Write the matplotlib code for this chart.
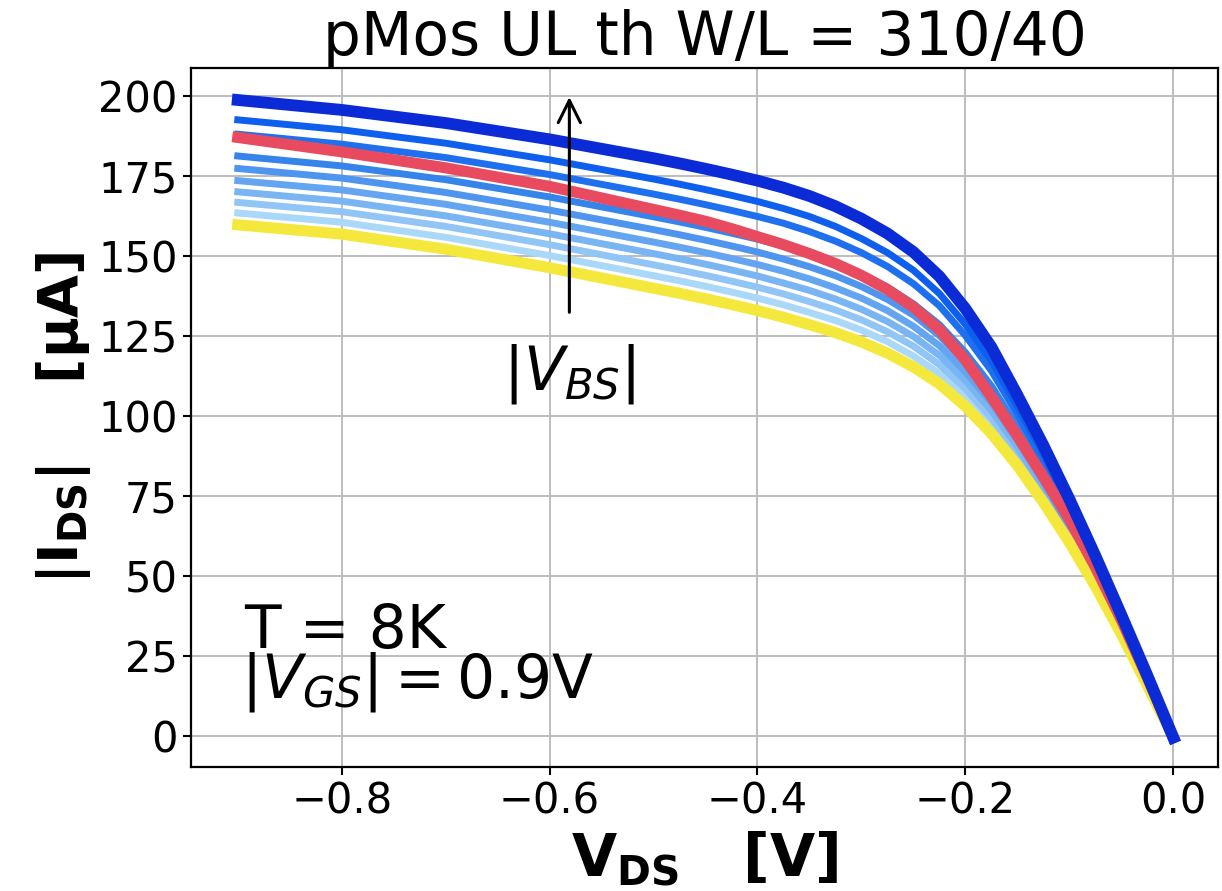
import matplotlib
matplotlib.use('Agg')
import matplotlib.pyplot as plt
import numpy as np

# drain-source sweep [V]
vds = [-0.9, -0.8, -0.7, -0.6, -0.5, -0.475, -0.45, -0.425, -0.4, -0.375, -0.35,
       -0.325, -0.3, -0.275, -0.25, -0.225, -0.2, -0.175, -0.15, -0.125, -0.1,
       -0.075, -0.05, -0.025, 0.0]

# |I_DS| in uA, one curve per body bias, lowest |V_BS| first
ids_yellow = [159.7, 156.8, 152.1, 146.3, 139.9, 138.3, 136.6, 134.8, 132.9, 130.8, 128.5,
              126.0, 123.1, 119.6, 115.3, 110.0, 103.0, 94.5, 84.5, 73.0, 60.5,
              46.8, 31.8, 15.8, -0.5]
ids_b7 = [163.4, 160.5, 155.8, 150.1, 143.8, 142.2, 140.5, 138.7, 136.8, 134.7, 132.3,
          129.8, 126.8, 123.2, 118.7, 113.2, 105.9, 97.1, 86.6, 74.7, 61.8,
          47.7, 32.4, 16.1, -0.5]
ids_b6 = [166.7, 163.8, 159.2, 153.5, 147.2, 145.6, 143.9, 142.1, 140.2, 138.1, 135.7,
          133.1, 130.0, 126.3, 121.8, 116.0, 108.5, 99.4, 88.5, 76.2, 62.9,
          48.5, 32.9, 16.4, -0.5]
ids_b5 = [170.0, 167.1, 162.5, 156.9, 150.7, 149.1, 147.4, 145.6, 143.7, 141.5, 139.2,
          136.5, 133.3, 129.5, 124.8, 118.9, 111.1, 101.7, 90.3, 77.7, 64.1,
          49.3, 33.4, 16.6, -0.5]
ids_b4 = [173.5, 170.6, 166.1, 160.5, 154.3, 152.7, 151.0, 149.2, 147.3, 145.2, 142.8,
          140.0, 136.8, 132.9, 128.0, 121.9, 113.8, 104.1, 92.3, 79.3, 65.3,
          50.2, 33.9, 16.9, -0.5]
ids_b3 = [177.3, 174.3, 169.8, 164.3, 158.2, 156.6, 154.9, 153.1, 151.2, 149.0, 146.6,
          143.8, 140.4, 136.4, 131.5, 125.1, 116.7, 106.7, 94.4, 81.0, 66.6,
          51.1, 34.5, 17.2, -0.5]
ids_b2 = [181.2, 178.1, 173.8, 168.4, 162.2, 160.6, 158.9, 157.1, 155.2, 153.1, 150.6,
          147.7, 144.3, 140.2, 135.0, 128.5, 119.8, 109.4, 96.6, 82.8, 67.9,
          52.0, 35.1, 17.5, -0.5]
ids_bx = [188.0, 184.9, 180.7, 175.4, 169.3, 167.7, 166.0, 164.2, 162.3, 160.2, 157.6,
          154.6, 151.0, 146.7, 141.3, 134.4, 125.1, 114.1, 100.5, 85.9, 70.3,
          53.7, 36.2, 18.0, -0.5]
ids_b1 = [192.5, 189.4, 185.2, 180.0, 174.0, 172.4, 170.7, 168.9, 167.0, 164.8, 162.3,
          159.2, 155.4, 151.0, 145.5, 138.2, 128.6, 117.2, 103.0, 88.0, 71.8,
          54.8, 36.8, 18.4, -0.5]
ids_dark = [198.7, 195.6, 191.5, 186.4, 180.5, 178.9, 177.2, 175.4, 173.5, 171.3, 168.7,
            165.5, 161.6, 157.0, 151.2, 143.6, 133.5, 121.5, 106.5, 90.8, 74.0,
            56.3, 37.8, 18.9, -0.5]
# reference curve
ids_red = [187.0, 182.5, 177.5, 171.7, 164.5, 162.7, 160.8, 158.5, 156.0, 153.5, 150.7,
           147.6, 143.9, 139.5, 134.0, 127.0, 117.5, 106.0, 93.8, 81.0, 67.8,
           52.8, 36.3, 18.3, -0.5]

blues = [ids_b7, ids_b6, ids_b5, ids_b4, ids_b3, ids_b2, ids_bx, ids_b1]
blue_colors = ['#aad8f8', '#90c5f6', '#79b4f3', '#63a5f0', '#4d95ee', '#3584ea',
               '#1f70ee', '#0f5fee']

fig = plt.figure(figsize=(12.22, 8.91), dpi=100)
ax = fig.add_axes([0.1563, 0.1392, 0.8404, 0.7845])

for ids, c in zip(blues, blue_colors):
    ax.plot(vds, ids, color=c, lw=5)
ax.plot(vds, ids_yellow, color='#f5e83c', lw=8)
ax.plot(vds, ids_red, color='#e84a5f', lw=8)
ax.plot(vds, ids_dark, color='#0a2bd6', lw=8.5)

ax.set_xlim(-0.945, 0.043)
ax.set_ylim(-9.7, 208.7)
ax.set_xticks([-0.8, -0.6, -0.4, -0.2, 0.0])
ax.set_yticks(np.arange(0, 201, 25))
ax.tick_params(labelsize=30, width=1.5, length=6)
ax.grid(True, color='#bdbdbd', lw=1.4)
for s in ax.spines.values():
    s.set_linewidth(1.6)

ax.set_title('pMos UL th W/L = 310/40', fontsize=43)
ax.set_xlabel(r'$\mathbf{V_{DS}}$   [V]', fontsize=42, fontweight='bold', labelpad=5)
ax.set_ylabel(r'$\mathbf{|I_{DS}|}$    [μA]', fontsize=40, fontweight='bold')

ax.annotate('', xy=(-0.581, 200.5), xytext=(-0.581, 131.5),
            arrowprops=dict(arrowstyle='->', color='black', lw=2.2, mutation_scale=40))
ax.text(-0.581, 113, r'$|V_{BS}|$', fontsize=43, ha='center', va='center')
ax.text(-0.894, 27.5, 'T = 8K', fontsize=43, ha='left', va='baseline')
ax.text(-0.897, 12.0, r'$|V_{GS}| = 0.9$V', fontsize=43, ha='left', va='baseline')

fig.savefig('out.png', dpi=100)
